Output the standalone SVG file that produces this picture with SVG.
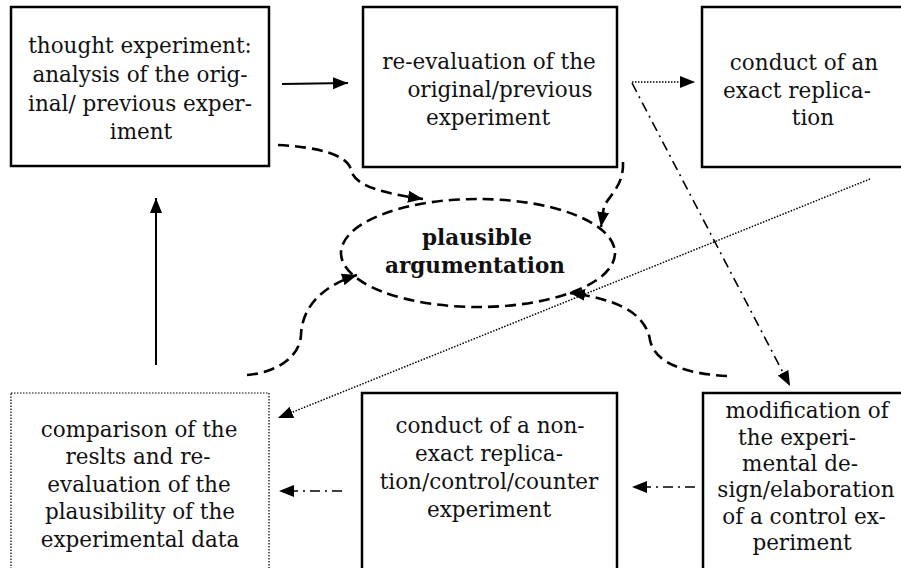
<svg xmlns="http://www.w3.org/2000/svg" width="901" height="568" viewBox="0 0 901 568">
<style>
.box{fill:#fff;stroke:#000;stroke-width:2.5}
.dbox{fill:#fff;stroke:#000;stroke-width:1.2;stroke-dasharray:1.5 1.5}
.t{font-family:"DejaVu Serif","Liberation Serif",serif;font-size:21.5px;fill:#111;text-anchor:middle}
.b{font-family:"DejaVu Serif","Liberation Serif",serif;font-size:21.5px;font-weight:bold;fill:#111;text-anchor:middle}
.solid{fill:none;stroke:#000;stroke-width:2}
.dash{fill:none;stroke:#000;stroke-width:2.6;stroke-dasharray:11 6}
.dot{fill:none;stroke:#000;stroke-width:1.5;stroke-dasharray:1.5 1.5}
.dd{fill:none;stroke:#000;stroke-width:1.6;stroke-dasharray:10 5 2 5}
</style>
<defs>
<marker id="ah" markerUnits="userSpaceOnUse" markerWidth="16" markerHeight="14" refX="15" refY="6" orient="auto" viewBox="0 0 16 12">
<path d="M0,0 L15,6 L0,12 z" fill="#000"/>
</marker>
</defs>

<g id="n-thought">
<rect class="box" x="11" y="7" width="258" height="159"/>
<text class="t" x="140" y="53">thought experiment:</text>
<text class="t" x="140" y="82">analysis of the orig-</text>
<text class="t" x="140" y="110.5">inal/ previous exper-</text>
<text class="t" x="141" y="139">iment</text>
</g>

<g id="n-reeval">
<rect class="box" x="363" y="7" width="254" height="160"/>
<text class="t" x="489" y="69">re-evaluation of the</text>
<text class="t" x="500" y="97">original/previous</text>
<text class="t" x="488" y="125">experiment</text>
</g>

<g id="n-exact">
<rect class="box" x="702" y="7" width="210" height="160"/>
<text class="t" x="804" y="70">conduct of an</text>
<text class="t" x="797" y="98">exact replica-</text>
<text class="t" x="813" y="125">tion</text>
</g>

<g id="n-plausible">
<ellipse class="dash" cx="478" cy="253" rx="137" ry="54"/>
<text class="b" x="477" y="245">plausible</text>
<text class="b" x="475" y="273">argumentation</text>
</g>

<g id="n-comparison">
<rect class="dbox" x="11" y="393" width="258" height="190"/>
<text class="t" x="139" y="437">comparison of the</text>
<text class="t" x="138" y="464">reslts and re-</text>
<text class="t" x="139" y="492">evaluation of the</text>
<text class="t" x="140" y="519">plausibility of the</text>
<text class="t" x="140" y="547">experimental data</text>
</g>

<g id="n-nonexact">
<rect class="box" x="362" y="393" width="255" height="190"/>
<text class="t" x="490" y="433">conduct of a non-</text>
<text class="t" x="489" y="461">exact replica-</text>
<text class="t" x="489" y="489">tion/control/counter</text>
<text class="t" x="489" y="517">experiment</text>
</g>

<g id="n-modification">
<rect class="box" x="703" y="393" width="210" height="190"/>
<text class="t" x="807" y="418">modification of</text>
<text class="t" x="797" y="445">the experi-</text>
<text class="t" x="800" y="471">mental de-</text>
<text class="t" x="806" y="497">sign/elaboration</text>
<text class="t" x="804" y="524">of a control ex-</text>
<text class="t" x="802" y="550">periment</text>
</g>

<g id="connectors">
<line class="solid" x1="282" y1="84" x2="348" y2="83" marker-end="url(#ah)"/>
<line class="dot" x1="632" y1="82" x2="695" y2="82" marker-end="url(#ah)"/>
<line class="dd" x1="632" y1="83" x2="790" y2="386" marker-end="url(#ah)"/>
<line class="dot" x1="870" y1="179" x2="278" y2="418" marker-end="url(#ah)"/>
<line class="solid" x1="156" y1="365" x2="156" y2="198" marker-end="url(#ah)"/>
<line class="dd" x1="342" y1="491" x2="279" y2="491" marker-end="url(#ah)"/>
<line class="dd" x1="695" y1="487" x2="632" y2="487" marker-end="url(#ah)"/>
<path class="dash" d="M278,145 C318,147 348,155 351,170 C355,188 390,194 423,199" marker-end="url(#ah)"/>
<path class="dash" d="M623,162 C624,185 610,195 604,206 L601,227" marker-end="url(#ah)"/>
<path class="dash" d="M247,375 C280,372 300,355 301,335 C302,305 325,285 357,275" marker-end="url(#ah)"/>
<path class="dash" d="M727,376 C690,374 655,365 650,340 C645,310 610,298 570,293" marker-end="url(#ah)"/>
</g>
</svg>
